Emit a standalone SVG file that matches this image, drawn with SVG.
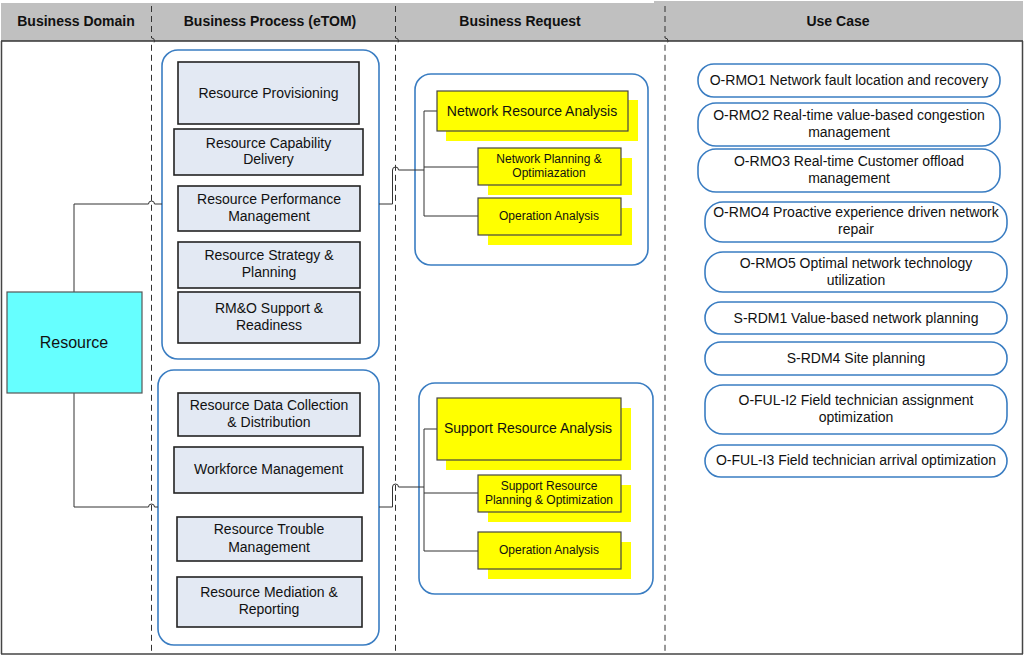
<svg xmlns="http://www.w3.org/2000/svg" width="1024" height="655" viewBox="0 0 1024 655">
<style>
text{font-family:"Liberation Sans",Arial,sans-serif;fill:#111;text-anchor:middle}
.hd{font-size:14px;font-weight:bold}
.t14{font-size:14px}
.t12{font-size:12px}
.div{stroke:#333;stroke-width:1;stroke-dasharray:6,4;fill:none}
.cont{fill:#fff;stroke:#3a7dc2;stroke-width:1.6}
.proc{fill:#e3e9f3;stroke:#222;stroke-width:1.6}
.yel{fill:#ffff00;stroke:#444;stroke-width:1.2}
.shd{fill:#ffff00;stroke:none}
.pill{fill:#fff;stroke:#3a7dc2;stroke-width:1.6}
.con{fill:none;stroke:#333;stroke-width:1}
</style>
<rect x="0" y="0" width="1024" height="655" fill="#fff"/>
<g id="header">
<rect x="1" y="3" width="653" height="38" fill="#c0c0c0"/>
<rect x="654" y="1" width="369" height="40" fill="#c0c0c0"/>
<line x1="1" y1="41" x2="1023" y2="41" stroke="#333" stroke-width="1.5"/>
<text class="hd" x="76" y="26">Business Domain</text>
<text class="hd" x="270" y="26">Business Process (eTOM)</text>
<text class="hd" x="520" y="26">Business Request</text>
<text class="hd" x="838" y="26">Use Case</text>
</g>
<g id="frame" fill="none" stroke="#444" stroke-width="1.5">
<line x1="1.5" y1="41" x2="1.5" y2="654"/>
<line x1="1022.5" y1="41" x2="1022.5" y2="654"/>
<line x1="1" y1="654" x2="1023" y2="654"/>
</g>
<g id="dividers">
<path class="div" d="M151.5,38 A3,3 0 0 1 151.5,44 V654"/>
<path class="div" d="M395.5,38 A3,3 0 0 1 395.5,44 V654"/>
<path class="div" d="M665,38 A3,3 0 0 1 665,44 V654"/>
<line class="div" x1="151.5" y1="6" x2="151.5" y2="38"/>
<line class="div" x1="395.5" y1="6" x2="395.5" y2="38"/>
<line class="div" x1="665" y1="6" x2="665" y2="38"/>
</g>
<g id="containers">
<rect id="proc-group-1" class="cont" x="162" y="50" width="217" height="309" rx="16"/>
<rect id="proc-group-2" class="cont" x="158" y="370" width="221" height="275" rx="16"/>
<rect id="req-group-1" class="cont" x="415" y="74" width="233" height="191" rx="16"/>
<rect id="req-group-2" class="cont" x="419" y="383" width="234" height="211" rx="16"/>
</g>
<g id="connectors">
<path class="con" d="M74,292 V204 H148.5 A3,3 0 0 1 154.5,204 H162"/>
<path class="con" d="M74,393 V507 H148.5 A3,3 0 0 1 154.5,507 H158"/>
<path class="con" d="M379,204 H392.5 V170 A3,3 0 0 1 398.5,170 H424"/>
<path class="con" d="M424,111 V216 M424,111 H437 M424,167 H478 M424,216 H478"/>
<path class="con" d="M379,507 H392.5 V487 A3,3 0 0 1 398.5,487 H424"/>
<path class="con" d="M424,429 V551 M424,429 H437 M424,493 H478 M424,551 H478"/>
</g>
<g id="resource">
<rect x="7" y="292" width="135" height="101" fill="#66ffff" stroke="#555" stroke-width="1.2"/>
<text x="74" y="348" style="font-size:16px">Resource</text>
</g>
<g id="p-provisioning"><rect class="proc" x="178" y="62" width="181" height="62"/><text class="t14" x="268.5" y="98">Resource Provisioning</text></g>
<g id="p-capability"><rect class="proc" x="174" y="129" width="189" height="46"/><text class="t14" x="268.5" y="148">Resource Capability</text><text class="t14" x="268.5" y="164">Delivery</text></g>
<g id="p-performance"><rect class="proc" x="178" y="186" width="182" height="45"/><text class="t14" x="269" y="204">Resource Performance</text><text class="t14" x="269" y="221">Management</text></g>
<g id="p-strategy"><rect class="proc" x="178" y="242" width="182" height="46"/><text class="t14" x="269" y="260">Resource Strategy &amp;</text><text class="t14" x="269" y="277">Planning</text></g>
<g id="p-rmo"><rect class="proc" x="178" y="292" width="182" height="51"/><text class="t14" x="269" y="313">RM&amp;O Support &amp;</text><text class="t14" x="269" y="330">Readiness</text></g>
<g id="p-datacollection"><rect class="proc" x="178" y="393" width="182" height="43"/><text class="t14" x="269" y="410">Resource Data Collection</text><text class="t14" x="269" y="427">&amp; Distribution</text></g>
<g id="p-workforce"><rect class="proc" x="174" y="447" width="189" height="46"/><text class="t14" x="268.5" y="474">Workforce Management</text></g>
<g id="p-trouble"><rect class="proc" x="177" y="517" width="185" height="44"/><text class="t14" x="269" y="534">Resource Trouble</text><text class="t14" x="269" y="552">Management</text></g>
<g id="p-mediation"><rect class="proc" x="177" y="577" width="185" height="50"/><text class="t14" x="269" y="597">Resource Mediation &amp;</text><text class="t14" x="269" y="614">Reporting</text></g>
<g id="r-nra"><rect class="shd" x="446" y="100" width="192" height="41"/><rect class="yel" x="437" y="91" width="191" height="40"/><text class="t14" x="532" y="116">Network Resource Analysis</text></g>
<g id="r-npo"><rect class="shd" x="488" y="158" width="144" height="37"/><rect class="yel" x="478" y="148" width="143" height="37"/><text class="t12" x="549" y="163">Network Planning &amp;</text><text class="t12" x="549" y="177">Optimiazation</text></g>
<g id="r-oa1"><rect class="shd" x="488" y="208" width="144" height="37"/><rect class="yel" x="478" y="198" width="143" height="37"/><text class="t12" x="549" y="220">Operation Analysis</text></g>
<g id="r-sra"><rect class="shd" x="446" y="408" width="185" height="62"/><rect class="yel" x="437" y="398" width="184" height="62"/><text class="t14" x="528" y="433">Support Resource Analysis</text></g>
<g id="r-srpo"><rect class="shd" x="488" y="485" width="143" height="37"/><rect class="yel" x="478" y="475" width="143" height="37"/><text class="t12" x="549" y="490">Support Resource</text><text class="t12" x="549" y="504">Planning &amp; Optimization</text></g>
<g id="r-oa2"><rect class="shd" x="488" y="542" width="143" height="37"/><rect class="yel" x="478" y="532" width="143" height="37"/><text class="t12" x="549" y="554">Operation Analysis</text></g>
<g id="uc-ormo1"><rect class="pill" x="698" y="64" width="302" height="33" rx="16"/><text class="t14" x="849" y="85">O-RMO1 Network fault location and recovery</text></g>
<g id="uc-ormo2"><rect class="pill" x="698" y="103" width="302" height="43" rx="18"/><text class="t14" x="849" y="120">O-RMO2 Real-time value-based congestion</text><text class="t14" x="849" y="137">management</text></g>
<g id="uc-ormo3"><rect class="pill" x="698" y="149" width="302" height="43" rx="18"/><text class="t14" x="849" y="166">O-RMO3 Real-time Customer offload</text><text class="t14" x="849" y="183">management</text></g>
<g id="uc-ormo4"><rect class="pill" x="705" y="202" width="302" height="40" rx="18"/><text class="t14" x="856" y="217">O-RMO4 Proactive experience driven network</text><text class="t14" x="856" y="234">repair</text></g>
<g id="uc-ormo5"><rect class="pill" x="705" y="252" width="302" height="40" rx="18"/><text class="t14" x="856" y="268">O-RMO5 Optimal network technology</text><text class="t14" x="856" y="285">utilization</text></g>
<g id="uc-srdm1"><rect class="pill" x="705" y="302" width="302" height="32" rx="16"/><text class="t14" x="856" y="323">S-RDM1 Value-based network planning</text></g>
<g id="uc-srdm4"><rect class="pill" x="705" y="342" width="302" height="33" rx="16"/><text class="t14" x="856" y="363">S-RDM4 Site planning</text></g>
<g id="uc-oful2"><rect class="pill" x="705" y="385" width="302" height="49" rx="18"/><text class="t14" x="856" y="405">O-FUL-I2 Field technician assignment</text><text class="t14" x="856" y="422">optimization</text></g>
<g id="uc-oful3"><rect class="pill" x="705" y="445" width="302" height="32" rx="16"/><text class="t14" x="856" y="465">O-FUL-I3 Field technician arrival optimization</text></g>
</svg>
